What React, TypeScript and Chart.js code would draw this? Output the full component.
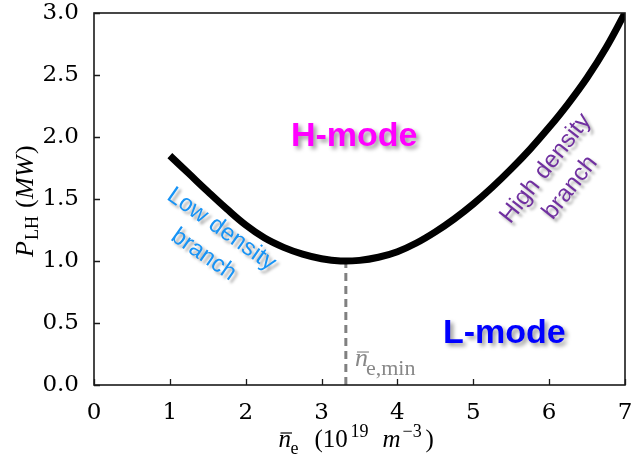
import { useEffect, useRef } from "react";
import { Chart, registerables } from "chart.js";

Chart.register(...registerables);

// ---- data ----
const densityX = [
  1.0, 1.25, 1.5, 1.75, 2.0, 2.25, 2.5, 2.75, 3.0, 3.25, 3.5, 3.75, 4.0,
  4.25, 4.5, 4.75, 5.0, 5.25, 5.5, 5.75, 6.0, 6.25, 6.5, 6.75, 7.0,
];
const powerY = [
  1.85, 1.705, 1.56, 1.42, 1.29, 1.185, 1.11, 1.055, 1.018, 1.0, 1.005, 1.03, 1.075,
  1.145, 1.235, 1.34, 1.46, 1.595, 1.743, 1.903, 2.078, 2.268, 2.478, 2.72, 3.0,
];
const nMinX = 3.32;
const nMinY = 1.0;
const xMin = 0;
const xMax = 7;
const yMin = 0;
const yMax = 3;
const xStep = 1;
const yStep = 0.5;

// annotation anchors in data coordinates
const hModeAt = { x: 3.43, y: 1.93, text: "H-mode" };
const lModeAt = { x: 5.41, y: 0.338, text: "L-mode" };
const lowBranchAt = { x: 1.68, y: 1.255, lines: ["Low density", "branch"] };
const highBranchAt = { x: 5.955, y: 1.746, lines: ["High density", "branch"] };
const nMinLabelAt = { x: 3.44, y: 0.153 };

const TICK_FONT = '"DejaVu Serif", serif';
const MATH_FONT = '"Liberation Serif", "DejaVu Serif", serif';
const SANS_FONT = '"Liberation Sans", Arial, sans-serif';

type Piece = { t: string; font: string; dx: number; dy: number; bar?: boolean };

function drawPieces(ctx: CanvasRenderingContext2D, pieces: Piece[], ox: number, oy: number, color: string) {
  ctx.fillStyle = color;
  ctx.strokeStyle = color;
  ctx.textAlign = "left";
  ctx.textBaseline = "alphabetic";
  for (const p of pieces) {
    ctx.font = p.font;
    ctx.fillText(p.t, ox + p.dx, oy + p.dy);
    if (p.bar) {
      const w = ctx.measureText(p.t).width;
      ctx.lineWidth = 1.2;
      ctx.beginPath();
      ctx.moveTo(ox + p.dx + 2, oy + p.dy - 14);
      ctx.lineTo(ox + p.dx + w + 1, oy + p.dy - 14);
      ctx.stroke();
    }
  }
}

const overlayPlugin = {
  id: "overlay",
  afterDatasetsDraw(chart: any) {
    const ctx: CanvasRenderingContext2D = chart.ctx;
    const xs = chart.scales.x;
    const ys = chart.scales.y;
    const px = (v: number) => xs.getPixelForValue(v);
    const py = (v: number) => ys.getPixelForValue(v);

    // mode labels
    ctx.save();
    ctx.shadowColor = "rgba(0,0,0,0.4)";
    ctx.shadowOffsetX = 3;
    ctx.shadowOffsetY = 3;
    ctx.shadowBlur = 4;
    ctx.font = `bold 34px ${SANS_FONT}`;
    ctx.textAlign = "center";
    ctx.textBaseline = "alphabetic";
    ctx.fillStyle = "#ff00ff";
    ctx.fillText(hModeAt.text, px(hModeAt.x), py(hModeAt.y));
    ctx.fillStyle = "#0000ff";
    ctx.fillText(lModeAt.text, px(lModeAt.x), py(lModeAt.y));
    ctx.restore();

    // branch labels
    const drawBranch = (at: { x: number; y: number; lines: string[] }, angle: number, color: string) => {
      ctx.save();
      ctx.shadowColor = "rgba(0,0,0,0.35)";
      ctx.shadowOffsetX = 3;
      ctx.shadowOffsetY = 3;
      ctx.shadowBlur = 3;
      ctx.translate(px(at.x), py(at.y));
      ctx.rotate((angle * Math.PI) / 180);
      ctx.font = `24px ${SANS_FONT}`;
      ctx.textAlign = "center";
      ctx.textBaseline = "middle";
      ctx.fillStyle = color;
      at.lines.forEach((l, i) => ctx.fillText(l, 0, i * 31));
      ctx.restore();
    };
    drawBranch(lowBranchAt, 35, "#1793f5");
    drawBranch(highBranchAt, -52, "#7030a0");

    // n_e,min label
    ctx.save();
    drawPieces(
      ctx,
      [
        { t: "n", font: `italic 26px ${MATH_FONT}`, dx: 0, dy: 0, bar: true },
        { t: "e,min", font: `22px ${MATH_FONT}`, dx: 11, dy: 9 },
      ],
      px(nMinLabelAt.x),
      py(nMinLabelAt.y),
      "#888888"
    );
    ctx.restore();
  },
  afterDraw(chart: any) {
    const ctx: CanvasRenderingContext2D = chart.ctx;
    const area = chart.chartArea;
    const xs = chart.scales.x;
    const ys = chart.scales.y;

    ctx.save();
    // inner ticks
    ctx.strokeStyle = "#1a1a1a";
    ctx.lineWidth = 1.3;
    ctx.beginPath();
    xs.ticks.forEach((t: any) => {
      const x = Math.round(xs.getPixelForValue(t.value)) + 0.5;
      ctx.moveTo(x, area.bottom);
      ctx.lineTo(x, area.bottom - 6);
    });
    ys.ticks.forEach((t: any) => {
      const y = Math.round(ys.getPixelForValue(t.value)) + 0.5;
      ctx.moveTo(area.left, y);
      ctx.lineTo(area.left + 6, y);
    });
    ctx.stroke();
    // frame
    ctx.lineWidth = 1.6;
    ctx.strokeRect(area.left, area.top, area.right - area.left, area.bottom - area.top);
    ctx.restore();

    // x title
    ctx.save();
    const cx = (area.left + area.right) / 2;
    drawPieces(
      ctx,
      [
        { t: "n", font: `italic 25px ${MATH_FONT}`, dx: 0, dy: 0, bar: true },
        { t: "e", font: `18px ${MATH_FONT}`, dx: 12, dy: 7 },
        { t: "(10", font: `25px ${MATH_FONT}`, dx: 36, dy: 0 },
        { t: "19", font: `18px ${MATH_FONT}`, dx: 72, dy: -10 },
        { t: "m", font: `italic 25px ${MATH_FONT}`, dx: 104, dy: 0 },
        { t: "\u22123", font: `18px ${MATH_FONT}`, dx: 124, dy: -10 },
        { t: ")", font: `25px ${MATH_FONT}`, dx: 147, dy: 0 },
      ],
      cx + 279 - 360,
      447,
      "#000"
    );
    ctx.restore();

    // y title (rotated)
    ctx.save();
    ctx.translate(33, (area.top + area.bottom) / 2 + 58);
    ctx.rotate(-Math.PI / 2);
    drawPieces(
      ctx,
      [
        { t: "P", font: `italic 26px ${MATH_FONT}`, dx: 0, dy: 0 },
        { t: "LH", font: `18px ${MATH_FONT}`, dx: 17, dy: 5 },
        { t: "(", font: `26px ${MATH_FONT}`, dx: 49, dy: 0 },
        { t: "MW", font: `italic 26px ${MATH_FONT}`, dx: 58, dy: 0 },
        { t: ")", font: `26px ${MATH_FONT}`, dx: 103, dy: 0 },
      ],
      0,
      0,
      "#000"
    );
    ctx.restore();
  },
};

export default function App() {
  const ref = useRef<HTMLCanvasElement>(null);
  useEffect(() => {
    const canvas = ref.current;
    if (!canvas) return;
    const chart = new Chart(canvas, {
      type: "line",
      data: {
        datasets: [
          {
            data: densityX.map((x, i) => ({ x, y: powerY[i] })),
            borderColor: "#000000",
            borderWidth: 7,
            pointRadius: 0,
            tension: 0.4,
            fill: false,
            borderCapStyle: "butt",
            borderJoinStyle: "round",
          },
          {
            data: [
              { x: nMinX, y: 0 },
              { x: nMinX, y: nMinY },
            ],
            borderColor: "#808080",
            borderWidth: 3,
            borderDash: [8, 5],
            pointRadius: 0,
            tension: 0,
            fill: false,
          },
        ],
      },
      options: {
        animation: false,
        responsive: true,
        maintainAspectRatio: false,
        layout: { padding: { top: 13, right: 7, left: 0, bottom: 0 } },
        plugins: { legend: { display: false }, tooltip: { enabled: false } },
        scales: {
          x: {
            type: "linear",
            min: xMin,
            max: xMax,
            ticks: {
              stepSize: xStep,
              autoSkip: false,
              maxRotation: 0,
              padding: 6,
              color: "#000",
              font: { family: TICK_FONT, size: 23 },
            },
            grid: { display: false },
            border: { display: false },
            afterFit(s: any) {
              s.height = 76;
              s.paddingLeft = 0;
              s.paddingRight = 0;
            },
          },
          y: {
            type: "linear",
            min: yMin,
            max: yMax,
            ticks: {
              stepSize: yStep,
              autoSkip: false,
              padding: 7,
              color: "#000",
              font: { family: TICK_FONT, size: 23 },
              callback: (v: any) => Number(v).toFixed(1),
            },
            grid: { display: false },
            border: { display: false },
            afterFit(s: any) {
              s.width = 94;
              s.paddingTop = 0;
              s.paddingBottom = 0;
            },
          },
        },
      } as any,
      plugins: [overlayPlugin],
    });
    return () => chart.destroy();
  }, []);
  return (
    <div style={{ position: "absolute", left: 0, top: 0, width: 632, height: 461, background: "#fff" }}>
      <canvas ref={ref} />
    </div>
  );
}
